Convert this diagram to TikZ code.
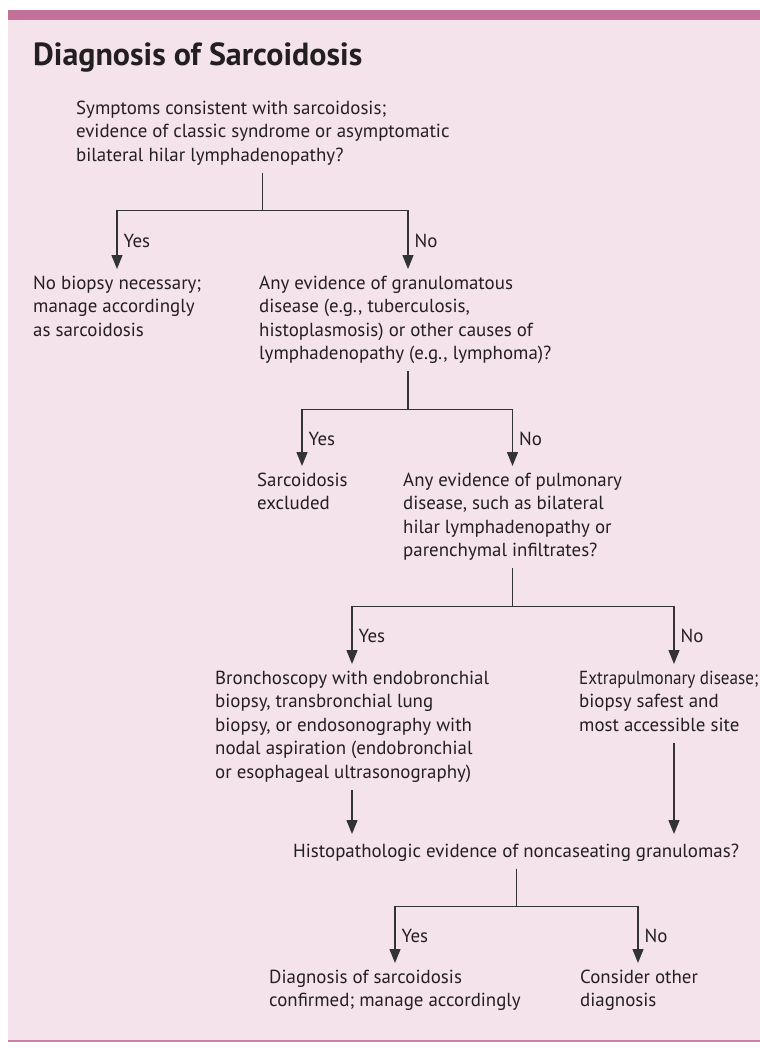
\documentclass[tikz,border=0pt]{standalone}
\usepackage{fontspec}
\usepackage{graphicx}
\setmainfont{PT Sans}
\usetikzlibrary{arrows.meta}
\definecolor{barpink}{HTML}{C4719A}
\definecolor{panelpink}{HTML}{F4E3EB}
\definecolor{rulepink}{HTML}{C982A5}
\definecolor{ink}{HTML}{231F20}
\definecolor{wire}{HTML}{333333}
\begin{document}
\begin{tikzpicture}[x=1pt,y=-1pt,
    txt/.style={anchor=north west,align=left,inner xsep=0pt,inner ysep=4pt,text=ink,
      font=\fontsize{18.9}{23.6}\selectfont,
      execute at begin node=\strut,execute at end node=\strut},
    arr/.style={draw=wire,line width=1.3pt,-{Triangle[width=11pt,length=14pt]},shorten >=2.5pt},
    stem/.style={draw=wire,line width=1.3pt},
    lbl/.style={right,inner xsep=6pt,text=ink,font=\fontsize{18.9}{23.6}\selectfont}]
  \useasboundingbox (0,0) rectangle (760,1042);
  % panel
  \fill[panelpink] (8,20) rectangle (760,1040);
  \fill[barpink] (8,10) rectangle (760,20);
  \fill[rulepink] (8,1040) rectangle (760,1042);
  \node[anchor=base west,inner sep=0pt,text=ink,font=\fontsize{32}{34}\selectfont\bfseries]
    (title) at (33,65) {Diagnosis of Sarcoidosis};
  % questions and outcomes
  \node[txt] (q1) at (76,96.5) {Symptoms consistent with sarcoidosis;\\evidence of classic syndrome or asymptomatic\\bilateral hilar lymphadenopathy?};
  \node[txt] (nobio) at (33,271.5) {No biopsy necessary;\\manage accordingly\\as sarcoidosis};
  \node[txt] (q2) at (259,271.5) {Any evidence of granulomatous\\disease (e.g., tuberculosis,\\histoplasmosis) or other causes of\\lymphadenopathy (e.g., lymphoma)?};
  \node[txt] (excl) at (257,468.5) {Sarcoidosis\\excluded};
  \node[txt] (q3) at (403,468.5) {Any evidence of pulmonary\\disease, such as bilateral\\hilar lymphadenopathy or\\parenchymal infiltrates?};
  \node[txt] (bron) at (215,666.5) {Bronchoscopy with endobronchial\\biopsy, transbronchial lung\\biopsy, or endosonography with\\nodal aspiration (endobronchial\\or esophageal ultrasonography)};
  \node[txt] (extra) at (579,666.5) {\scalebox{0.905}[1]{Extrapulmonary disease;}\\biopsy safest and\\most accessible site};
  \node[txt] (histo) at (293,836.5) {Histopathologic evidence of noncaseating granulomas?};
  \node[txt] (conf) at (269,965.5) {Diagnosis of sarcoidosis\\confirmed; manage accordingly};
  \node[txt] (other) at (580,965.5) {Consider other\\diagnosis};
  % connectors
  \draw[stem] ([xshift=186.7pt]q1.south west) -- ++(0,38) coordinate (j1);
  \draw[arr] (j1) -| node[lbl,pos=0.75] {Yes} ([xshift=84pt]nobio.north west);
  \draw[arr] (j1) -| node[lbl,pos=0.75] {No} ([xshift=149pt]q2.north west);
  \draw[stem] ([xshift=149pt]q2.south west) -- ++(0,38) coordinate (j2);
  \draw[arr] (j2) -| node[lbl,pos=0.75] {Yes} ([xshift=45pt]excl.north west);
  \draw[arr] (j2) -| node[lbl,pos=0.75] {No} ([xshift=109.5pt]q3.north west);
  \draw[stem] ([xshift=109.5pt]q3.south west) -- ++(0,38) coordinate (j3);
  \draw[arr] (j3) -| node[lbl,pos=0.75] {Yes} ([xshift=137pt]bron.north west);
  \draw[arr] (j3) -| node[lbl,pos=0.75] {No} ([xshift=95pt]extra.north west);
  \draw[arr] ([xshift=137pt]bron.south west) -- ([xshift=137pt]bron.south west |- histo.north);
  \draw[arr] ([xshift=95pt]extra.south west) -- ([xshift=95pt]extra.south west |- histo.north);
  \draw[stem] ([xshift=223.7pt]histo.south west) -- ++(0,38) coordinate (j4);
  \draw[arr] (j4) -| node[lbl,pos=0.75] {Yes} ([xshift=126pt]conf.north west);
  \draw[arr] (j4) -| node[lbl,pos=0.75] {No} ([xshift=58pt]other.north west);
\end{tikzpicture}
\end{document}
